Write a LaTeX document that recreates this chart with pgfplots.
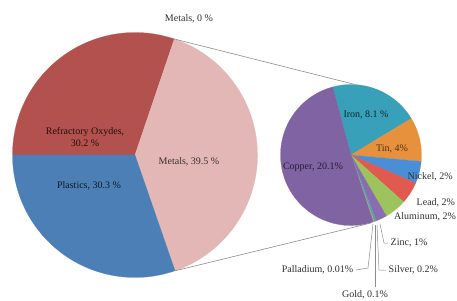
\documentclass[border=0pt]{standalone}
\usepackage{pgfplots}
\pgfplotsset{compat=1.18}
\usepackage{pgfplotstable}
\usepackage{fontspec}
\setmainfont{Liberation Serif}

\definecolor{cRef}{HTML}{B2514D}
\definecolor{cMet}{HTML}{E3B7B5}
\definecolor{cPla}{HTML}{4D7FB7}
\definecolor{cIron}{HTML}{38A0B9}
\definecolor{cTin}{HTML}{E8913C}
\definecolor{cNi}{HTML}{4A8ED5}
\definecolor{cPb}{HTML}{E05A4F}
\definecolor{cAl}{HTML}{9DC35C}
\definecolor{cZn}{HTML}{8A6CB0}
\definecolor{cAg}{HTML}{45A8C0}
\definecolor{cAu}{HTML}{E8913C}
\definecolor{cPd}{HTML}{4A8ED5}
\definecolor{cCu}{HTML}{7F63A3}
\definecolor{txt}{HTML}{2E2E2E}
\definecolor{conn}{HTML}{8C8C8C}

\pgfplotstableread{
name value color
Refractory 30.2 cRef
Metals 39.5 cMet
Plastics 30.3 cPla
}\primary

\pgfplotstableread{
name value color
Iron 8.1 cIron
Tin 4 cTin
Nickel 2 cNi
Lead 2 cPb
Aluminum 2 cAl
Zinc 1 cZn
Silver 0.2 cAg
Gold 0.1 cAu
Palladium 0.01 cPd
Copper 20.1 cCu
}\secondary

% #1 table, #2 cx, #3 cy, #4 radius, #5 start angle (clockwise)
\newcommand\drawpie[5]{%
  \pgfplotstablegetrowsof{#1}%
  \pgfmathtruncatemacro\pieN{\pgfplotsretval-1}%
  \def\pietotal{0}%
  \pgfplotsforeachungrouped \i in {0,...,\pieN}{%
    \pgfplotstablegetelem{\i}{value}\of{#1}%
    \pgfmathsetmacro\pietotal{\pietotal+\pgfplotsretval}%
  }%
  \def\angA{#5}%
  \pgfplotsforeachungrouped \i in {0,...,\pieN}{%
    \pgfplotstablegetelem{\i}{value}\of{#1}\let\pieval\pgfplotsretval
    \pgfplotstablegetelem{\i}{color}\of{#1}\let\piecol\pgfplotsretval
    \pgfmathsetmacro\angB{\angA-360*\pieval/\pietotal}%
    \edef\tmp{\noexpand\fill[\piecol, draw=\piecol, line width=0.2pt]
      (axis cs:#2,#3) -- ([shift={(\angA:#4pt)}]axis cs:#2,#3)
      arc[start angle=\angA, end angle=\angB, radius=#4pt] -- cycle;}%
    \tmp
    \let\angA\angB
  }%
}

\begin{document}
\begin{tikzpicture}
\useasboundingbox (0,0) rectangle (457pt,300pt);
\begin{axis}[
  at={(0,0)}, anchor=south west,
  scale only axis, width=457pt, height=300pt,
  xmin=0, xmax=457, ymin=0, ymax=300,
  hide axis, clip=false,
]
\drawpie{\primary}{135}{145}{122.5}{180}
\drawpie{\secondary}{351}{145}{70.5}{105}

% connector lines
\draw[conn, line width=0.6pt] (axis cs:174.3,261) -- (axis cs:355,215.5);
\draw[conn, line width=0.6pt] (axis cs:175.1,29.2) -- (axis cs:371,77);

% leader lines
\draw[conn, line width=0.5pt] (axis cs:380,76) -- (axis cs:384,57) -- (axis cs:388,57);
\draw[conn, line width=0.5pt] (axis cs:377,75) -- (axis cs:379,30) -- (axis cs:386,30);
\draw[conn, line width=0.5pt] (axis cs:375,75) -- (axis cs:375,13);
\draw[conn, line width=0.5pt] (axis cs:373,76) -- (axis cs:368,32) -- (axis cs:356,30);

\begin{scope}[every node/.style={font=\fontsize{10}{11.5}\selectfont, inner sep=0.5pt}]
% primary labels
\node[txt] at (axis cs:189,281) {Metals, 0 \%};
\node[align=center, text=black!80!cRef] at (axis cs:85,163) {Refractory Oxydes,\\30.2 \%};
\node[text=black!80!cPla] at (axis cs:89,114) {Plastics, 30.3 \%};
\node[text=black!75!cMet] at (axis cs:189,138) {Metals, 39.5 \%};
% secondary labels
\node[text=black!75!cIron] at (axis cs:366,185) {Iron, 8.1 \%};
\node[text=black!65!cTin] at (axis cs:392,151) {Tin, 4\%};
\node[text=black!70!cCu] at (axis cs:313,133) {Copper, 20.1\%};
\node[txt, anchor=west] at (axis cs:407,123) {Nickel, 2\%};
\node[txt, anchor=west] at (axis cs:416,97) {Lead, 2\%};
\node[txt, anchor=west] at (axis cs:393.5,83) {Aluminum, 2\%};
\node[txt, anchor=west] at (axis cs:390,57) {Zinc, 1\%};
\node[txt, anchor=west] at (axis cs:388,30) {Silver, 0.2\%};
\node[txt] at (axis cs:365,5.5) {Gold, 0.1\%};
\node[txt, anchor=east] at (axis cs:354,30) {Palladium, 0.01\%};
\end{scope}
\end{axis}
\end{tikzpicture}
\end{document}
